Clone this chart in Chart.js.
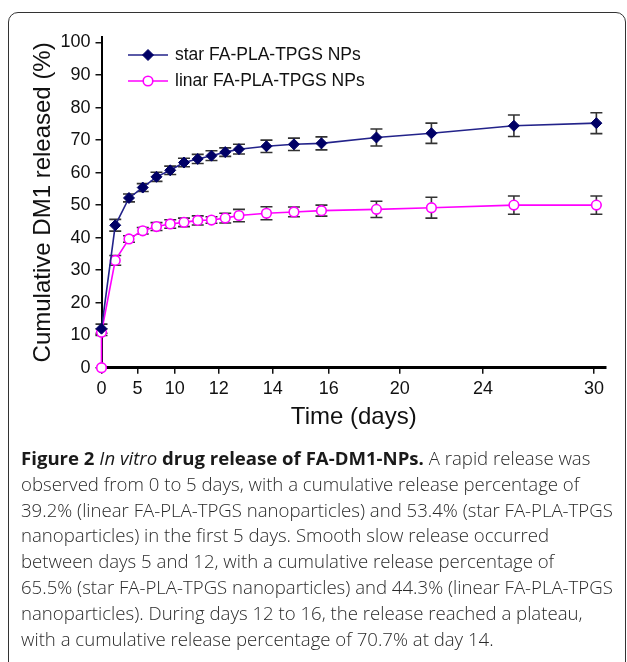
<!DOCTYPE html>
<html>
<head>
<meta charset="utf-8">
<script src="https://cdn.jsdelivr.net/npm/chart.js@4.4.1/dist/chart.umd.min.js"></script>
<style>
  html, body { margin: 0; padding: 0; background: #fff; width: 627px; height: 662px; overflow: hidden; }
  #wrap { position: relative; width: 627px; height: 662px; }
  #c { position: absolute; left: 0; top: 0; }
  #frame { position: absolute; left: 8px; top: 12px; width: 616px; height: 700px;
           border: 1.5px solid #333; border-radius: 10px; pointer-events: none; }
  #caption { position: absolute; left: 21px; top: 445px; font-family: "Open Sans", sans-serif;
             font-size: 18.6px; line-height: 25.8px; color: #2a2a2a; font-weight: 300; white-space: nowrap; }
  #caption b { font-weight: 700; color: #1a1a1a; }
  #caption i { font-style: italic; font-weight: 400; color: #1a1a1a; }
</style>
</head>
<body>
<div id="wrap">
  <canvas id="c" width="627" height="440"></canvas>
  <div id="frame"></div>
  <div id="caption">
    <div><b>Figure 2</b> <i>In vitro</i> <b>drug release of FA-DM1-NPs.</b> A rapid release was</div>
    <div>observed from 0 to 5 days, with a cumulative release percentage of</div>
    <div>39.2% (linear FA-PLA-TPGS nanoparticles) and 53.4% (star FA-PLA-TPGS</div>
    <div>nanoparticles) in the first 5 days. Smooth slow release occurred</div>
    <div>between days 5 and 12, with a cumulative release percentage of</div>
    <div>65.5% (star FA-PLA-TPGS nanoparticles) and 44.3% (linear FA-PLA-TPGS</div>
    <div>nanoparticles). During days 12 to 16, the release reached a plateau,</div>
    <div>with a cumulative release percentage of 70.7% at day 14.</div>
  </div>
</div>
<script>
// ---- data ----
const seriesNames = ['star FA-PLA-TPGS NPs', 'linar FA-PLA-TPGS NPs'];
// sampling slots along the x axis
const starX   = [0, 1, 2, 3, 4, 5, 6, 7, 8, 9, 10, 12, 14, 16, 20, 24, 30, 36];
const starY   = [12, 43.8, 52.2, 55.4, 58.7, 60.7, 63.1, 64.2, 65.2, 66.3, 67.2, 68.1, 68.7, 69.0, 70.8, 72.1, 74.4, 75.2];
const starErr = [1.4, 1.8, 1.2, 1.2, 1.4, 1.3, 1.3, 1.4, 1.5, 1.3, 1.5, 1.9, 1.9, 2.0, 2.6, 3.1, 3.3, 3.2];
const linX    = [0, 0, 1, 2, 3, 4, 5, 6, 7, 8, 9, 10, 12, 14, 16, 20, 24, 30, 36];
const linY    = [0, 10.9, 33.0, 39.6, 42.1, 43.4, 44.2, 44.7, 45.3, 45.4, 46.0, 46.8, 47.5, 47.9, 48.3, 48.7, 49.2, 50.0, 50.0];
const linErr  = [0, 1.0, 1.5, 1.0, 1.0, 1.2, 1.3, 1.3, 1.4, 1.0, 1.5, 1.9, 2.0, 1.5, 1.7, 2.5, 3.2, 2.8, 2.8];
// x tick labels as printed on the figure, and where they sit on the axis
const xTickLabels = ['0', '5', '10', '12', '14', '16', '20', '24', '30'];
const xTickAt     = [0, 2.62, 5.33, 8.53, 12.46, 16.53, 21.69, 27.75, 35.83];
const yTicks      = [0, 10, 20, 30, 40, 50, 60, 70, 80, 90, 100];

const toPts = (xs, ys) => xs.map((x, i) => ({x: x, y: ys[i]}));
const errs = [starErr, linErr];

const FONT = '"Liberation Sans", Arial, sans-serif';

const errorBars = {
  id: 'errorBars',
  beforeDatasetsDraw(chart) {
    const ctx = chart.ctx;
    const ys = chart.scales.y;
    ctx.save();
    ctx.strokeStyle = '#333';
    ctx.lineWidth = 1.6;
    chart.data.datasets.forEach((ds, di) => {
      const meta = chart.getDatasetMeta(di);
      meta.data.forEach((pt, i) => {
        const e = errs[di][i];
        if (!e) return;
        const v = ds.data[i].y;
        const t = ys.getPixelForValue(v + e);
        const b = ys.getPixelForValue(v - e);
        const x = pt.x;
        ctx.beginPath();
        ctx.moveTo(x, t); ctx.lineTo(x, b);
        ctx.moveTo(x - 6, t); ctx.lineTo(x + 6, t);
        ctx.moveTo(x - 6, b); ctx.lineTo(x + 6, b);
        ctx.stroke();
      });
    });
    ctx.restore();
  }
};

const legendPlugin = {
  id: 'customLegend',
  afterDraw(chart) {
    const ctx = chart.ctx;
    ctx.save();
    chart.data.datasets.forEach((ds, i) => {
      const y = 55 + i * 26;
      ctx.strokeStyle = ds.borderColor;
      ctx.lineWidth = 1.5;
      ctx.beginPath(); ctx.moveTo(128, y); ctx.lineTo(168, y); ctx.stroke();
      ctx.fillStyle = ds.pointBackgroundColor;
      ctx.strokeStyle = ds.pointBorderColor;
      ctx.lineWidth = ds.pointBorderWidth;
      ctx.beginPath();
      if (ds.pointStyle === 'circle') {
        ctx.arc(148, y, ds.pointRadius, 0, Math.PI * 2);
      } else {
        const r = ds.pointRadius;
        ctx.moveTo(148, y - r); ctx.lineTo(148 + r, y); ctx.lineTo(148, y + r); ctx.lineTo(148 - r, y); ctx.closePath();
      }
      ctx.fill(); ctx.stroke();
      ctx.fillStyle = '#111';
      ctx.font = '17.5px ' + FONT;
      ctx.textBaseline = 'middle';
      ctx.textAlign = 'left';
      ctx.fillText(seriesNames[i], 175, y);
    });
    ctx.restore();
  }
};

new Chart(document.getElementById('c'), {
  type: 'line',
  data: {
    datasets: [
      {
        label: seriesNames[0],
        data: toPts(starX, starY),
        borderColor: '#23238a',
        borderWidth: 1.6,
        pointStyle: 'rectRot',
        pointRadius: 5.5,
        pointBackgroundColor: '#000066',
        pointBorderColor: '#000066',
        pointBorderWidth: 1,
        tension: 0,
        clip: false
      },
      {
        label: seriesNames[1],
        data: toPts(linX, linY),
        borderColor: '#ff00ff',
        borderWidth: 1.6,
        pointStyle: 'circle',
        pointRadius: 4.8,
        pointBackgroundColor: '#ffffff',
        pointBorderColor: '#ff00ff',
        pointBorderWidth: 1.6,
        tension: 0,
        clip: false
      }
    ]
  },
  options: {
    responsive: false,
    animation: false,
    events: [],
    layout: { padding: { left: 0, top: 37, right: 21, bottom: 0 } },
    plugins: { legend: { display: false }, tooltip: { enabled: false } },
    scales: {
      x: {
        type: 'linear',
        min: 0,
        max: 36.7,
        afterBuildTicks: (axis) => { axis.ticks = xTickAt.map(v => ({ value: v })); },
        afterFit: (s) => { s.height = 72.3; },
        ticks: {
          autoSkip: false, maxRotation: 0, padding: 5, color: '#111',
          font: { family: FONT, size: 18 },
          callback: (v, i) => xTickLabels[i]
        },
        grid: { display: true, drawOnChartArea: false, drawTicks: true, tickLength: 6, color: '#111', lineWidth: 1.5 },
        border: { display: true, color: '#000', width: 3 },
        title: { display: true, text: 'Time (days)', color: '#111',
                 font: { family: FONT, size: 24 }, padding: { top: 0, bottom: 8 } }
      },
      y: {
        type: 'linear',
        min: 0,
        max: 101.7,
        afterBuildTicks: (axis) => { axis.ticks = yTicks.map(v => ({ value: v })); },
        afterFit: (s) => { s.width = 101.5; },
        ticks: { padding: 5, color: '#111', font: { family: FONT, size: 18 } },
        grid: { display: true, drawOnChartArea: false, drawTicks: true, tickLength: 6, color: '#111', lineWidth: 1.5 },
        border: { display: true, color: '#000', width: 2 },
        title: { display: true, text: 'Cumulative DM1 released (%)', color: '#111',
                 font: { family: FONT, size: 24 }, padding: { top: 29, bottom: 0 } }
      }
    }
  },
  plugins: [errorBars, legendPlugin]
});
</script>
</body>
</html>
